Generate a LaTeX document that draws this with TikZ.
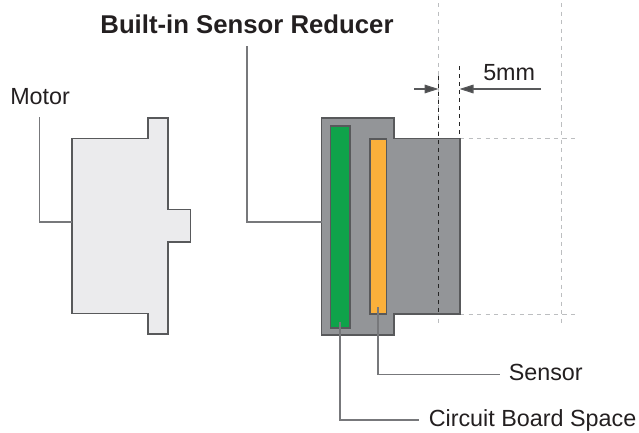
\documentclass[tikz,border=0pt]{standalone}
\usepackage{fontspec}
\setmainfont{Liberation Sans}
\usetikzlibrary{arrows.meta}
\definecolor{edgeg}{HTML}{58595B}
\definecolor{leader}{HTML}{77787B}
\definecolor{motorfill}{HTML}{EBEBED}
\definecolor{redfill}{HTML}{939598}
\definecolor{boardg}{HTML}{0FA34A}
\definecolor{sensoro}{HTML}{FBB03B}
\definecolor{guide}{HTML}{BCBEC0}
\definecolor{txt}{HTML}{231F20}
\tikzset{
  x=0.75pt,y=-0.75pt,
  body/.style={draw=edgeg,line width=1.2pt,line join=miter},
  leaderline/.style={draw=leader,line width=0.85pt},
  guideline/.style={draw=guide,line width=0.7pt,dash pattern=on 3.2pt off 3.2pt},
  blackdash/.style={draw=black!85,line width=0.7pt,dash pattern=on 3.2pt off 2.8pt},
  dimline/.style={draw=edgeg,line width=0.85pt,-{Triangle[length=10.5pt,width=6.5pt,fill=edgeg!85!black]}},
  lab/.style={text=txt,font=\fontsize{17.5pt}{20pt}\selectfont,inner sep=0pt},
  title/.style={text=txt,font=\fontsize{19.3pt}{22pt}\selectfont\bfseries,inner sep=0pt}
}
\begin{document}
\begin{tikzpicture}
\useasboundingbox (0,0) rectangle (639,432);
% guides
\draw[guideline] (438.5,3) -- (438.5,326);
\draw[guideline] (561.5,3) -- (561.5,326);
\draw[guideline] (460,138.5) -- (577,138.5);
\draw[guideline] (460,314) -- (577,314);
% motor
\path[body,fill=motorfill] (72,138.5) -- (148,138.5) -- (148,118) -- (168,118) -- (168,209.5) -- (190.5,209.5) -- (190.5,242) -- (168,242) -- (168,334) -- (148,334) -- (148,313.5) -- (72,313.5) -- cycle;
% reducer
\path[body,fill=redfill] (321.5,118) -- (394,118) -- (394,138.5) -- (460,138.5) -- (460,314) -- (394,314) -- (394,335) -- (321.5,335) -- cycle;
\node[body,fill=boardg,outer sep=0pt,minimum width=14.6pt,minimum height=151.5pt,inner sep=0pt,anchor=north west] (board) at (330.5,126) {};
\node[body,fill=sensoro,outer sep=0pt,minimum width=12.4pt,minimum height=131.4pt,inner sep=0pt,anchor=north west] (sensor) at (370,139) {};
% black dashes
\coordinate (da) at (438.5,76);
\coordinate (db) at (438.5,314);
\coordinate (dc) at (459.5,66);
\coordinate (dd) at (459.5,138);
\draw[blackdash] (da) -- (db);
\draw[blackdash] (dc) -- (dd);
% dimension
\coordinate (ea) at (414,89);
\coordinate (eb) at (541,89);
\draw[dimline] (ea) -- (438.5,89);
\draw[dimline] (eb) -- (459.5,89);
% labels
\node[title,anchor=base] (ttl) at (247,33) {Built-in Sensor Reducer};
\node[lab,anchor=base west] (motorlab) at (10,104) {Motor};
\node[lab,anchor=base west] (five) at (483,80) {5mm};
\node[lab,anchor=base west] (sensorlab) at (508.5,380.5) {Sensor};
\node[lab,anchor=base west] (cblab) at (428.5,426.5) {Circuit Board Space};
% leaders
\coordinate (ma) at (39.7,117);
\coordinate (mb) at (72,222);
\coordinate (ba) at (247,46);
\coordinate (bb) at (321.5,222);
\coordinate (sa) at (378,307);
\coordinate (sb) at (500,374.5);
\coordinate (ca) at (340,322);
\coordinate (cb) at (419,420);
\draw[leaderline] (ma) |- (mb);
\draw[leaderline] (ba) |- (bb);
\draw[leaderline] (sa) |- (sb);
\draw[leaderline] (ca) |- (cb);
\end{tikzpicture}
\end{document}
